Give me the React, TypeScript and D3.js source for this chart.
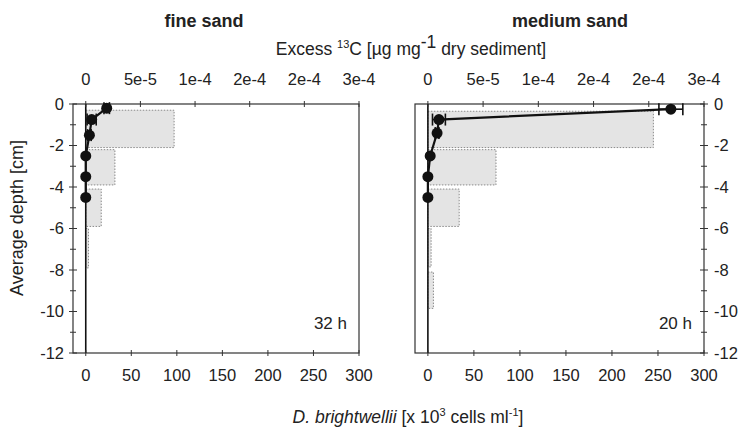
import React from "react";
import * as d3 from "d3";

// ---- data ----
const panelTitles = ["fine sand", "medium sand"];
const panelTimes = ["32 h", "20 h"];

// D. brightwellii cell counts per depth layer (bars)
const fineBarTop = [-0.3, -2.2, -4.1, -6.0];
const fineBarBottom = [-2.1, -3.9, -5.9, -7.9];
const fineBarValue = [97, 32, 17, 3];

const mediumBarTop = [-0.35, -2.2, -4.1, -6.0, -8.1];
const mediumBarBottom = [-2.1, -3.9, -5.9, -7.85, -9.85];
const mediumBarValue = [245, 74, 34, 3.5, 6];

// Excess 13C profile (points)
const fineDepth = [-0.2, -0.75, -1.5, -2.5, -3.5, -4.5];
const fineC13 = [2.3e-5, 6.5e-6, 4e-6, 0, 0, 0];
const fineC13Err = [3e-6, 5e-6, 2e-6, 0, 0, 0];

const mediumDepth = [-0.25, -0.75, -1.4, -2.5, -3.5, -4.5];
const mediumC13 = [2.64e-4, 1.2e-5, 1e-5, 2.5e-6, 0, 0];
const mediumC13Err = [1.3e-5, 7e-6, 2e-6, 0, 0, 0];

const bottomTicks = [0, 50, 100, 150, 200, 250, 300];
const topTickValues = [0, 6e-5, 1.2e-4, 1.8e-4, 2.4e-4, 3e-4];
const topTickLabels = ["0", "5e-5", "1e-4", "2e-4", "2e-4", "3e-4"];
const depthTicks = [0, -2, -4, -6, -8, -10, -12];
const depthMinor = [-1, -3, -5, -7, -9, -11];

const FONT = "'Liberation Sans', Arial, sans-serif";
const TICK_FS = 16.5;

type PanelProps = {
  x0: number;
  x1: number;
  titleX: number;
  title: string;
  time: string;
  barTop: number[];
  barBottom: number[];
  barValue: number[];
  depth: number[];
  c13: number[];
  err: number[];
  side: "left" | "right";
};

const Y0 = 104;
const Y1 = 353;

function Panel(p: PanelProps) {
  const y = d3.scaleLinear().domain([0, -12]).range([Y0, Y1]);
  const xb = d3.scaleLinear().domain([-14, 300]).range([p.x0, p.x1]);
  const xt = d3.scaleLinear().domain([-14e-6, 3e-4]).range([p.x0, p.x1]);
  const line = d3
    .line<number>()
    .x((_, i) => xt(p.c13[i]))
    .y((d) => y(d));
  const axX = p.side === "left" ? p.x0 : p.x1;
  const stroke = "#333";
  return (
    <g>
      <text x={p.titleX} y={27} textAnchor="middle" fontFamily={FONT} fontSize={18} fontWeight="bold" fill="#222">
        {p.title}
      </text>
      {/* bars */}
      {p.barValue.map((v, i) => (
        <rect
          key={"b" + i}
          x={xb(0)}
          y={y(p.barTop[i])}
          width={xb(v) - xb(0)}
          height={y(p.barBottom[i]) - y(p.barTop[i])}
          fill="#e4e4e4"
          stroke="#8a8a8a"
          strokeWidth={1}
          strokeDasharray="1.5,1.5"
        />
      ))}
      {/* frame */}
      <rect x={p.x0} y={Y0} width={p.x1 - p.x0} height={Y1 - Y0} fill="none" stroke={stroke} strokeWidth={1.2} />
      {/* zero line */}
      <line x1={xb(0)} x2={xb(0)} y1={Y0} y2={Y1} stroke="#111" strokeWidth={1.6} />
      {/* top ticks */}
      {topTickValues.map((t, i) => (
        <g key={"tt" + i}>
          <line x1={xt(t)} x2={xt(t)} y1={Y0 - 3} y2={Y0 + 3} stroke={stroke} />
          <text x={xt(t)} y={85} textAnchor="middle" fontFamily={FONT} fontSize={TICK_FS} fill="#222">
            {topTickLabels[i]}
          </text>
        </g>
      ))}
      {/* bottom ticks */}
      {bottomTicks.map((t) => (
        <g key={"bt" + t}>
          <line x1={xb(t)} x2={xb(t)} y1={Y1 - 3} y2={Y1 + 3} stroke={stroke} />
          <text x={xb(t)} y={381} textAnchor="middle" fontFamily={FONT} fontSize={TICK_FS} fill="#222">
            {t}
          </text>
        </g>
      ))}
      {/* depth ticks */}
      {depthTicks.map((t) => (
        <g key={"dt" + t}>
          <line x1={axX - 4} x2={axX + 4} y1={y(t)} y2={y(t)} stroke={stroke} />
          <text
            x={p.side === "left" ? axX - 9 : axX + 10}
            y={y(t) + 5.5}
            textAnchor={p.side === "left" ? "end" : "start"}
            fontFamily={FONT}
            fontSize={TICK_FS}
            fill="#222"
          >
            {t}
          </text>
        </g>
      ))}
      {depthMinor.map((t) => (
        <line key={"dm" + t} x1={axX - 3} x2={axX + 3} y1={y(t)} y2={y(t)} stroke={stroke} />
      ))}
      {/* 13C profile */}
      <path d={line(p.depth) || ""} fill="none" stroke="#111" strokeWidth={2.2} />
      {p.depth.map((d, i) =>
        p.err[i] > 0 ? (
          <g key={"e" + i} stroke="#111" strokeWidth={1.6}>
            <line x1={xt(p.c13[i] - p.err[i])} x2={xt(p.c13[i] + p.err[i])} y1={y(d)} y2={y(d)} />
            <line x1={xt(p.c13[i] - p.err[i])} x2={xt(p.c13[i] - p.err[i])} y1={y(d) - 6} y2={y(d) + 6} />
            <line x1={xt(p.c13[i] + p.err[i])} x2={xt(p.c13[i] + p.err[i])} y1={y(d) - 6} y2={y(d) + 6} />
          </g>
        ) : null
      )}
      {p.depth.map((d, i) => (
        <circle key={"c" + i} cx={xt(p.c13[i])} cy={y(d)} r={5.5} fill="#111" />
      ))}
      <text x={p.x1 - 12} y={329} textAnchor="end" fontFamily={FONT} fontSize={17} fill="#222">
        {p.time}
      </text>
    </g>
  );
}

export default function App() {
  return (
    <svg width={745} height={430} style={{ display: "block", position: "absolute", left: 0, top: 0, background: "#fff" }}>
      <rect x={0} y={0} width={745} height={430} fill="#fff" />
      <Panel
        x0={73}
        x1={359}
        titleX={204}
        title={panelTitles[0]}
        time={panelTimes[0]}
        barTop={fineBarTop}
        barBottom={fineBarBottom}
        barValue={fineBarValue}
        depth={fineDepth}
        c13={fineC13}
        err={fineC13Err}
        side="left"
      />
      <Panel
        x0={415}
        x1={704}
        titleX={570}
        title={panelTitles[1]}
        time={panelTimes[1]}
        barTop={mediumBarTop}
        barBottom={mediumBarBottom}
        barValue={mediumBarValue}
        depth={mediumDepth}
        c13={mediumC13}
        err={mediumC13Err}
        side="right"
      />
      <text x={411} y={55} textAnchor="middle" fontFamily={FONT} fontSize={17.5} fill="#222">
        Excess <tspan dy={-7} fontSize={11}>13</tspan>
        <tspan dy={7}>C [µg mg</tspan>
        <tspan dy={-7} fontSize={17.5}>-1</tspan>
        <tspan dy={7}> dry sediment]</tspan>
      </text>
      <text x={408} y={423} textAnchor="middle" fontFamily={FONT} fontSize={17.5} fill="#222">
        <tspan fontStyle="italic">D. brightwellii</tspan>
        <tspan> [x 10</tspan>
        <tspan dy={-7} fontSize={11}>3</tspan>
        <tspan dy={7}> cells ml</tspan>
        <tspan dy={-7} fontSize={11}>-1</tspan>
        <tspan dy={7}>]</tspan>
      </text>
      <text
        transform="translate(23,218) rotate(-90)"
        textAnchor="middle"
        fontFamily={FONT}
        fontSize={18}
        fill="#222"
      >
        Average depth [cm]
      </text>
    </svg>
  );
}
